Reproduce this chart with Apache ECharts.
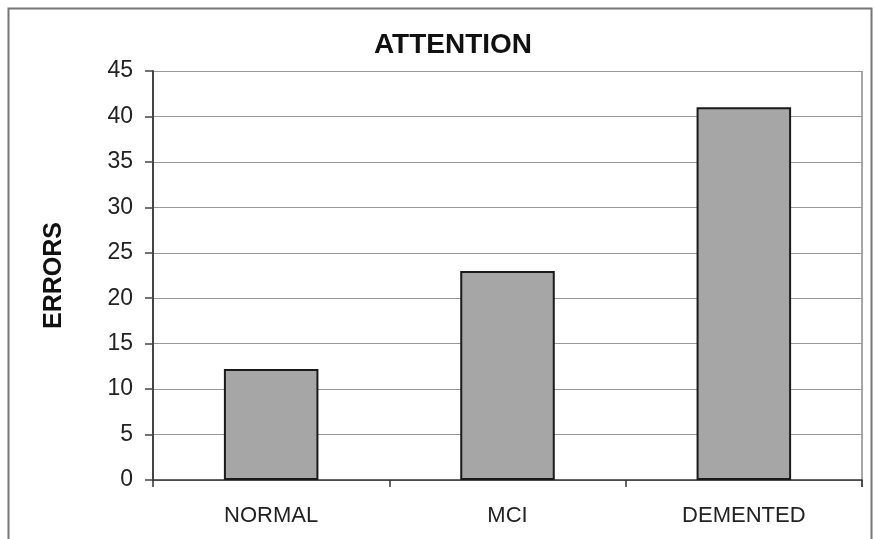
<!DOCTYPE html>
<html><head><meta charset="utf-8">
<script src="https://cdn.jsdelivr.net/npm/echarts@6/dist/echarts.min.js"></script>
<style>html,body{margin:0;padding:0;background:#fff}#c{width:874px;height:539px}</style>
</head><body><div id="c"></div>
<script>
const categories = ['NORMAL', 'MCI', 'DEMENTED'];
const errors = [12.2, 23.0, 41.0];
const yTicks = [0, 5, 10, 15, 20, 25, 30, 35, 40, 45];

const chart = echarts.init(document.getElementById('c'), null, {renderer: 'canvas'});
chart.setOption({
  backgroundColor: '#fff',
  animation: false,
  title: {
    text: 'ATTENTION', left: 448, top: 26, textAlign: 'center',
    textStyle: {fontFamily: 'Liberation Sans, Arial', fontWeight: 'bold', fontSize: 28, color: '#111'}
  },
  graphic: [
    {type: 'polyline', shape: {points: [[8.5, 539], [8.5, 8.5], [871.5, 8.5], [871.5, 539]]},
     style: {stroke: '#777', lineWidth: 2, fill: null}, silent: true},
    {type: 'line', shape: {x1: 862, y1: 71, x2: 862, y2: 487},
     style: {stroke: '#888', lineWidth: 1.5}, silent: true}
  ],
  grid: {left: 153, right: 12, top: 71, bottom: 59, containLabel: false},
  xAxis: {
    type: 'category', data: categories,
    axisLine: {lineStyle: {color: '#333', width: 1.5}},
    axisTick: {show: true, alignWithLabel: false, length: 7, inside: false, lineStyle: {color: '#333', width: 1.5}},
    axisLabel: {margin: 25, fontFamily: 'Liberation Sans, Arial', fontSize: 22, color: '#222'}
  },
  yAxis: {
    type: 'value', min: 0, max: 45, interval: 5,
    name: 'ERRORS', nameLocation: 'middle', nameGap: 86, nameRotate: 90,
    nameTextStyle: {fontFamily: 'Liberation Sans, Arial', fontWeight: 'bold', fontSize: 25, color: '#111'},
    axisLine: {show: true, lineStyle: {color: '#444', width: 2}},
    axisTick: {show: true, length: 8, lineStyle: {color: '#444', width: 1.5}},
    axisLabel: {margin: 20, fontFamily: 'Liberation Sans, Arial', fontSize: 23, color: '#222',
      formatter: v => yTicks.includes(v) ? String(v) : ''},
    splitLine: {lineStyle: {color: '#999', width: 1.2}}
  },
  series: [{
    type: 'bar', data: errors, barWidth: '40%',
    itemStyle: {color: '#a6a6a6', borderColor: '#1a1a1a', borderWidth: 2}
  }]
});
</script></body></html>
